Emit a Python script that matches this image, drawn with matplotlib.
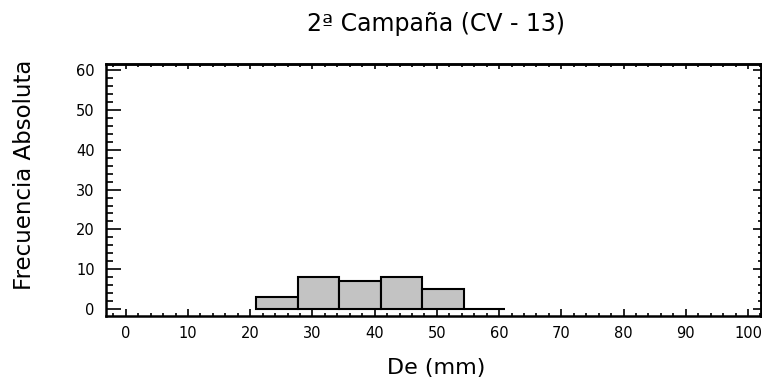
import numpy as np
import matplotlib
matplotlib.use('Agg')
import matplotlib.pyplot as plt
from matplotlib.ticker import MultipleLocator, NullFormatter

# histograma De (mm), 2a campaña CV-13
bin_edges = [21.0, 27.67, 34.33, 41.0, 47.67, 54.33, 61.0]
counts = [3, 8, 7, 8, 5, 0]

plt.rcParams['font.family'] = ['DejaVu Sans']

fig = plt.figure(figsize=(7.62, 3.83), dpi=100)
ax = fig.add_axes([0.139, 0.175, 0.8597, 0.658])

edges = np.array(bin_edges)
ax.bar(edges[:-1], counts, width=np.diff(edges), align='edge',
       color='#c3c3c3', edgecolor='black', linewidth=1.5)

ax.set_xlim(-3.2, 102.1)
ax.set_ylim(-1.7, 61.5)

ax.xaxis.set_major_locator(MultipleLocator(10))
ax.xaxis.set_minor_locator(MultipleLocator(2))
ax.yaxis.set_major_locator(MultipleLocator(10))
ax.yaxis.set_minor_locator(MultipleLocator(2))

ax.tick_params(axis='both', which='both', direction='in', width=1.2, labelsize=10.5)
ax.tick_params(axis='x', which='major', length=5, pad=7)
ax.tick_params(axis='x', which='minor', length=2.5)
ax.tick_params(axis='y', which='major', length=10.5, pad=8)
ax.tick_params(axis='y', which='minor', length=5)

# ticks arriba y a la derecha, mas cortos
top = ax.secondary_xaxis('top')
top.xaxis.set_major_locator(MultipleLocator(10))
top.xaxis.set_minor_locator(MultipleLocator(2))
top.xaxis.set_major_formatter(NullFormatter())
top.tick_params(which='both', direction='in', width=1.2)
top.tick_params(which='major', length=3.5)
top.tick_params(which='minor', length=2)
right = ax.secondary_yaxis('right')
right.yaxis.set_major_locator(MultipleLocator(10))
right.yaxis.set_minor_locator(MultipleLocator(2))
right.yaxis.set_major_formatter(NullFormatter())
right.tick_params(which='both', direction='in', width=1.2)
right.tick_params(which='major', length=6)
right.tick_params(which='minor', length=2.5)

for s in ax.spines.values():
    s.set_linewidth(1.8)
top.spines['top'].set_linewidth(1.8)
right.spines['right'].set_linewidth(1.8)

ax.set_title('2ª Campaña (CV - 13)', fontsize=17, x=0.504, pad=24)
ax.set_xlabel('De (mm)', fontsize=16)
ax.xaxis.label.set_va('center')
ax.xaxis.set_label_coords(0.504, -0.206)
ax.set_ylabel('Frecuencia Absoluta', fontsize=16.5)
ax.yaxis.label.set_va('center')
ax.yaxis.set_label_coords(-0.124, 0.56)

plt.savefig('out.png', dpi=100)
